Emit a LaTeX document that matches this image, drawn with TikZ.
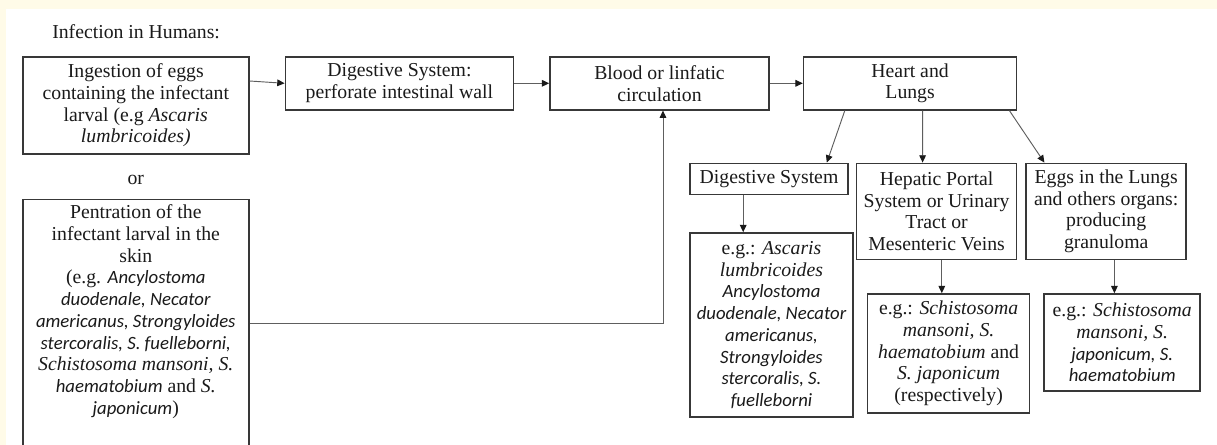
\documentclass[tikz,border=0pt]{standalone}
\usepackage{fontspec}
\setmainfont{Liberation Serif}
\newfontfamily\calibrifont[Scale=0.95]{Carlito}
\usetikzlibrary{positioning, arrows.meta, calc}

\definecolor{cream}{HTML}{FFFBE8}
\definecolor{ink}{HTML}{1A1A1A}
\definecolor{edge}{HTML}{383838}
\definecolor{wire}{HTML}{5E5E5E}
\newcommand{\sitl}[1]{{\calibrifont\itshape #1}}

\begin{document}
\begin{tikzpicture}[
    font=\fontsize{14.8}{16.3}\selectfont,
    arrow/.style={
        -{Triangle[length=5.5pt, width=5pt, color=ink]},
        draw=wire,
        line width=0.7pt
    },
    box/.style={
        rectangle,
        draw=edge,
        line width=1.2pt,
        fill=white,
        text=ink,
        align=center,
        inner xsep=2pt,
        inner ysep=4pt
    },
    stage/.style={
        box,
        minimum height=39.75pt
    }
]

    % Page
    \fill[cream] (0,0) rectangle (912.75pt,-333.75pt);
    \fill[white] (4.5pt,-6.75pt) rectangle (912.75pt,-333.75pt);
    \useasboundingbox (0,0) rectangle (912.75pt,-333.75pt);

    % Title
    \node[anchor=west, text=ink, inner sep=0pt] (title) at (39pt,-24pt) {Infection in Humans:};

    % Ways in
    \node[box, anchor=north west, minimum width=169.5pt, minimum height=72.75pt] (ingest) at (16.5pt,-42pt)
        {Ingestion of eggs\\ containing the infectant\\ larval (e.g \textit{Ascaris}\\ \textit{lumbricoides)}};
    \node[text=ink, below=18.75pt of ingest.south, anchor=center] (or) {or};
    \node[box, below=33pt of ingest.south west, anchor=north west, minimum width=169.5pt] (skin)
        {Pentration of the\\ infectant larval in the\\ skin\\ (e.g. \sitl{Ancylostoma}\\ \sitl{duodenale, Necator}\\
         \sitl{americanus, Strongyloides}\\ \sitl{stercoralis, S. fuelleborni,}\\ \textit{Schistosoma mansoni, S.}\\
         \sitl{haematobium} and \textit{S.}\\ \sitl{japonicum})\\[30pt]\mbox{}};

    % Main row
    \node[stage, right=26.25pt of ingest.north east, anchor=north west, minimum width=171pt] (gut)
        {Digestive System:\\ perforate intestinal wall};
    \node[stage, right=26.25pt of gut, minimum width=164.25pt] (blood) {Blood or linfatic\\ circulation};
    \node[stage, right=24.75pt of blood, minimum width=159.75pt] (heart) {Heart and\\ Lungs};

    \draw[arrow] ([yshift=-18.75pt]ingest.north east) -- (gut.west);
    \draw[arrow] (gut) -- (blood);
    \draw[arrow] (blood) -- (heart);
    \draw[arrow] ([yshift=-94pt]skin.north east) -| ([xshift=2.6pt]blood.south);

    % Sites
    \node[box, below=39pt of heart.south east, anchor=north east, minimum width=120pt, minimum height=72pt] (portal)
        {Hepatic Portal\\ System or Urinary\\ Tract or\\ Mesenteric Veins};
    \node[box, right=6pt of portal, minimum width=120pt, minimum height=72pt] (lungs)
        {Eggs in the Lungs\\ and others organs:\\ producing\\ granuloma};
    \node[box, left=5.25pt of portal.north west, anchor=north east, minimum width=118.5pt, minimum height=23.25pt,
        inner ysep=2pt] (digest) {Digestive System};

    \draw[arrow] ([xshift=31.5pt]heart.south west) -- ([xshift=-16.5pt]digest.north east);
    \draw[arrow] ([xshift=9.4pt]heart.south) -- ([xshift=-10.5pt]portal.north);
    \draw[arrow] ([xshift=-6pt]heart.south east) -- ([xshift=14.25pt]lungs.north west);

    % Examples
    \node[box, below=27.75pt of digest.south west, anchor=north west, minimum width=122.25pt, minimum height=138pt] (exgut)
        {e.g.: \textit{Ascaris}\\ \textit{lumbricoides}\\ \sitl{Ancylostoma}\\ \sitl{duodenale, Necator}\\
         \sitl{americanus,}\\ \sitl{Strongyloides}\\ \sitl{stercoralis, S.}\\ \sitl{fuelleborni}};
    \node[box, below=24.75pt of portal.south west, anchor=north west, xshift=8.25pt, minimum width=121.5pt,
        minimum height=89.25pt] (exportal)
        {e.g.: \textit{Schistosoma}\\ \textit{mansoni, S.}\\ \textit{haematobium} and\\ \textit{S. japonicum}\\ (respectively)};
    \node[box, below=24.75pt of lungs.south west, anchor=north west, xshift=13.5pt, minimum width=117pt,
        minimum height=72.75pt] (exlungs)
        {e.g.: \textit{Schistosoma}\\ \textit{mansoni, S.}\\ \sitl{japonicum, S.}\\ \sitl{haematobium}};

    \draw[arrow] ([xshift=40.5pt]digest.south west) -- ([xshift=40.5pt]exgut.north west);
    \draw[arrow] ([xshift=64.5pt]portal.south west) -- ([xshift=56.25pt]exportal.north west);
    \draw[arrow] ([xshift=66.75pt]lungs.south west) -- ([xshift=53.25pt]exlungs.north west);

\end{tikzpicture}
\end{document}
